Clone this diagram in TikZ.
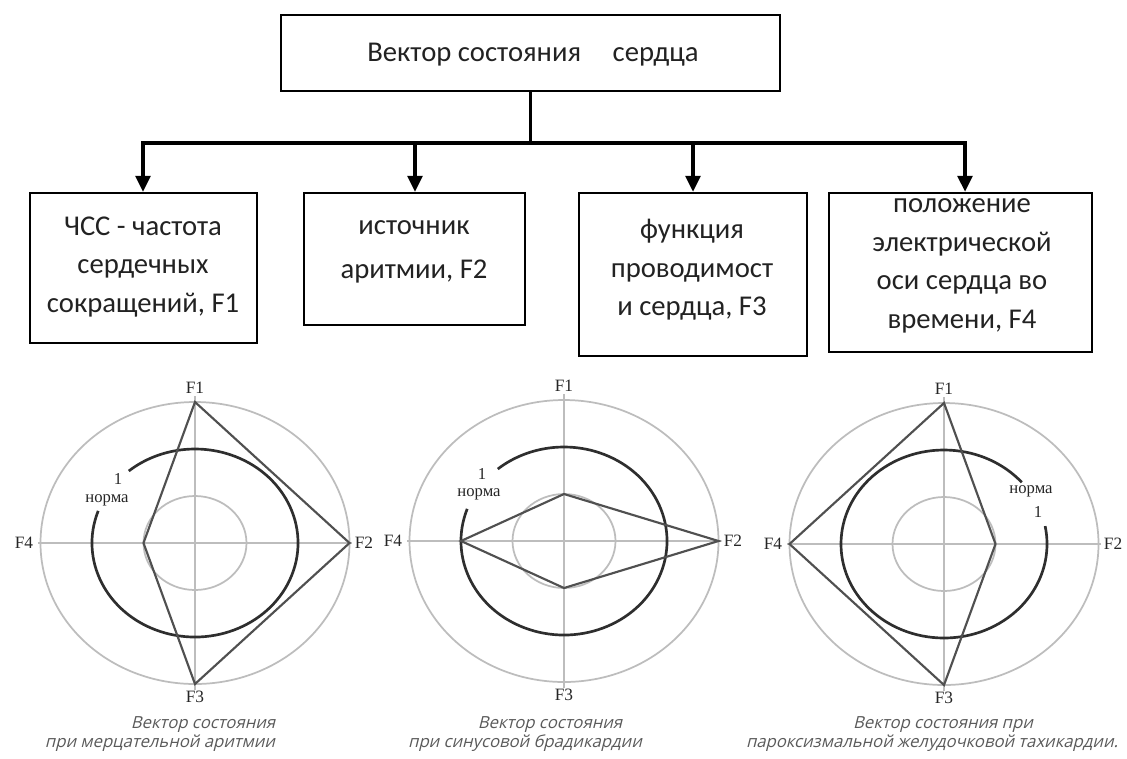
\documentclass[tikz,border=0pt]{standalone}
\usepackage{fontspec}
\usetikzlibrary{arrows.meta}
\newfontfamily\boxfont{Carlito}
\newfontfamily\serf{Liberation Serif}
\newfontfamily\capfont[FakeSlant=0.25]{Open Sans}
\definecolor{gridc}{HTML}{BDBDBD}
\definecolor{ringc}{HTML}{2E2E2E}
\definecolor{polyc}{HTML}{505050}
\definecolor{capc}{HTML}{5A5A5A}
\definecolor{txtc}{HTML}{222222}
\newcommand\radar[8]{%
  \begin{scope}[shift={(#2,#3)}]
    \draw[gridline] (0,0) ellipse[x radius=115.875pt, y radius=105.75pt];
    \draw[gridline] (0,0) ellipse[x radius=38.625pt, y radius=35.25pt];
    \draw[gridline] (-157,0) -- (157,0);
    \draw[gridline] (0,-147) -- (0,147);
    \draw[ring] ([shift={(#8:77.25pt and 70.5pt)}]0,0) arc[start angle=#8, delta angle=330, x radius=77.25pt, y radius=70.5pt];
    \coordinate (#1-1) at (0,{-94*#4});
    \coordinate (#1-2) at ({103*#5},0);
    \coordinate (#1-3) at (0,{94*#6});
    \coordinate (#1-4) at ({-103*#7},0);
    \draw[poly] (#1-1) -- (#1-2) -- (#1-3) -- (#1-4) -- cycle;
    \node[flab] (#1-L1) at (0,-155) {F1};
    \node[flab] (#1-L2) at (169,0) {F2};
    \node[flab] (#1-L3) at (0,154) {F3};
    \node[flab] (#1-L4) at (-171,0) {F4};
  \end{scope}}
\begin{document}
\begin{tikzpicture}[x=0.75pt,y=-0.75pt,
  box/.style={draw=black,line width=1.8pt,fill=white,inner sep=0pt},
  btxt/.style={font=\boxfont\fontsize{21.5}{28.9}\selectfont,text=txtc,align=center,inner sep=0pt},
  conn/.style={line width=2.6pt,black},
  arr/.style={line width=2.6pt,black,-{Triangle[length=12pt,width=11pt]}},
  gridline/.style={gridc,line width=1.3pt},
  ring/.style={ringc,line width=2pt},
  poly/.style={polyc,line width=1.6pt,line join=miter},
  flab/.style={font=\serf\fontsize{13}{15}\selectfont,text=black!85,inner sep=0pt},
  nlab/.style={font=\serf\fontsize{12.5}{14}\selectfont,text=black!85,inner sep=0pt},
  captxt/.style={font=\capfont\fontsize{12.5}{14}\selectfont,text=capc,inner sep=0pt}]
\useasboundingbox[fill=white] (0,0) rectangle (1127,758);

% top box
\node[box,minimum width=374.25pt,minimum height=57pt] (top) at (530.5,53) {};
\node[btxt] (toptxt) at (533,55) {Вектор состояния\hspace{1.1em}сердца};

% second row boxes
\node[box,minimum width=170.25pt,minimum height=112.5pt] (b1) at (143.5,268) {};
\node[box,minimum width=165.75pt,minimum height=99pt] (b2) at (414.5,259) {};
\node[box,minimum width=171pt,minimum height=122.25pt] (b3) at (693,274.5) {};
\node[box,minimum width=197.25pt,minimum height=119.25pt] (b4) at (960.5,272.5) {};

\node[btxt] (t1) at (143,267) {ЧСС - частота\\сердечных\\сокращений, F1};
\node[btxt] (t2) at (414,252) {источник\\[4pt]аритмии, F2};
\node[btxt] (t3) at (692,270) {функция\\проводимост\\и сердца, F3};
\node[btxt] (t4) at (962,266) {положение\\электрической\\оси сердца во\\времени, F4};

% connectors
\coordinate (j1) at (143,143);
\coordinate (j2) at (415,143);
\coordinate (j3) at (693,143);
\coordinate (j4) at (965,143);
\draw[conn] (top.south) -- (top.south |- j1);
\draw[conn,line cap=rect] (j1) -- (j4);
\draw[arr] (j1) -- (j1 |- b1.north);
\draw[arr] (j2) -- (j2 |- b2.north);
\draw[arr] (j3) -- (j3 |- b3.north);
\draw[arr] (j4) -- (j4 |- b4.north);

% radar charts
\radar{ra}{195}{543}{1.5}{1.5}{1.5}{0.5}{160}
\radar{rb}{564}{541}{0.5}{1.5}{0.5}{1}{160}
\radar{rc}{944}{544}{1.5}{0.5}{1.5}{1.5}{41}

\node[nlab] (ra-one) at (118,479) {1};
\node[nlab] (ra-norm) at (107,500) {норма};
\node[nlab] (rb-one) at (482,474) {1};
\node[nlab] (rb-norm) at (479,494) {норма};
\node[nlab] (rc-norm) at (1031,491) {норма};
\node[nlab] (rc-one) at (1038,512) {1};

% captions
\node[captxt] (c1a) at (203,725) {Вектор состояния};
\node[captxt] (c1b) at (160,743) {при мерцательной аритмии};
\node[captxt] (c2a) at (550,725) {Вектор состояния};
\node[captxt] (c2b) at (525,743) {при синусовой брадикардии};
\node[captxt] (c3a) at (943,725) {Вектор состояния при};
\node[captxt] (c3b) at (932,743) {пароксизмальной желудочковой тахикардии.};
\end{tikzpicture}
\end{document}
